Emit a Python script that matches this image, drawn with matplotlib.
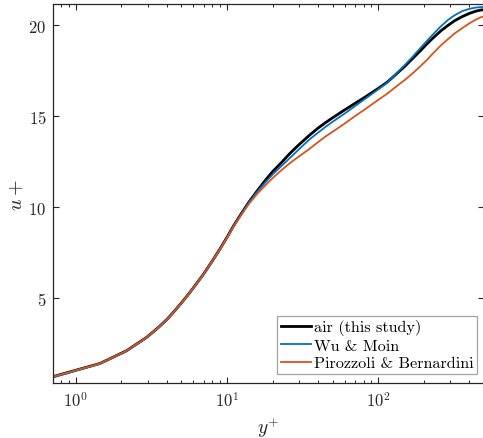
import numpy as np
import matplotlib
matplotlib.use("Agg")
import matplotlib.pyplot as plt
from matplotlib.ticker import LogLocator, NullFormatter, FixedLocator

plt.rcParams['font.family'] = 'serif'
plt.rcParams['font.serif'] = ['cmr10', 'DejaVu Serif']
plt.rcParams['mathtext.fontset'] = 'cm'
plt.rcParams['axes.formatter.use_mathtext'] = True

# Mean velocity profiles in wall units (y+, u+)
yplus_air = [0.711, 1.447, 2.17, 2.95, 3.5, 4.0, 4.5, 5.0, 5.5, 6.0, 7.0, 8.0, 9.0, 10.0,
             11.0, 12.0, 14.0, 16.0, 18.0, 20.0, 23.0, 26.0, 30.0, 35.0, 40.0, 45.0,
             50.0, 60.0, 70.0, 80.0, 90.0, 100.0, 115.0, 130.0, 150.0, 170.0, 190.0,
             210.0, 230.0, 260.0, 290.0, 320.0, 360.0, 400.0, 440.0, 480.0, 500.0]
uplus_air = [0.70, 1.42, 2.12, 2.86, 3.38, 3.83, 4.3, 4.75, 5.17, 5.58, 6.33, 7.05, 7.72,
             8.35, 8.95, 9.45, 10.3, 10.95, 11.5, 11.95, 12.47, 12.95, 13.45, 13.95, 14.35,
             14.66, 14.92, 15.35, 15.7, 16.0, 16.28, 16.53, 16.88, 17.28, 17.75, 18.2,
             18.6, 18.98, 19.3, 19.7, 20.0, 20.25, 20.48, 20.65, 20.77, 20.84, 20.85]

yplus_wm = [0.711, 1.447, 2.17, 2.95, 3.5, 4.0, 4.5, 5.0, 5.5, 6.0, 7.0, 8.0, 9.0, 10.0,
            11.0, 12.0, 14.0, 16.0, 18.0, 20.0, 23.0, 26.0, 30.0, 35.0, 40.0, 45.0,
            50.0, 60.0, 70.0, 80.0, 90.0, 100.0, 115.0, 130.0, 150.0, 170.0, 190.0,
            210.0, 230.0, 260.0, 290.0, 320.0, 360.0, 400.0, 440.0, 480.0, 500.0]
uplus_wm = [0.66, 1.40, 2.10, 2.84, 3.36, 3.81, 4.28, 4.73, 5.15, 5.56, 6.31, 7.03, 7.70,
            8.33, 8.93, 9.43, 10.27, 10.9, 11.38, 11.8, 12.28, 12.7, 13.2, 13.72, 14.1,
            14.43, 14.7, 15.15, 15.55, 15.9, 16.2, 16.48, 16.85, 17.3, 17.82, 18.3,
            18.75, 19.15, 19.5, 19.95, 20.3, 20.55, 20.78, 20.9, 20.97, 21.0, 21.0]

yplus_pb = [0.711, 1.447, 2.17, 2.95, 3.5, 4.0, 4.5, 5.0, 5.5, 6.0, 7.0, 8.0, 9.0, 10.0,
            11.0, 12.0, 14.0, 16.0, 18.0, 20.0, 23.0, 26.0, 30.0, 35.0, 40.0, 45.0,
            50.0, 60.0, 70.0, 80.0, 90.0, 100.0, 115.0, 130.0, 150.0, 170.0, 190.0,
            210.0, 230.0, 260.0, 290.0, 320.0, 360.0, 400.0, 440.0, 480.0, 500.0]
uplus_pb = [0.70, 1.42, 2.12, 2.86, 3.38, 3.83, 4.3, 4.75, 5.17, 5.58, 6.33, 7.05, 7.71,
            8.33, 8.92, 9.4, 10.2, 10.78, 11.22, 11.6, 12.05, 12.42, 12.8, 13.2, 13.58,
            13.9, 14.15, 14.6, 15.0, 15.33, 15.63, 15.9, 16.25, 16.6, 17.0, 17.38,
            17.75, 18.1, 18.45, 18.9, 19.25, 19.55, 19.85, 20.1, 20.3, 20.45, 20.49]

labels = ['air (this study)', 'Wu & Moin', 'Pirozzoli & Bernardini']
colors = ['black', '#0072BD', '#D95319']
widths = [2.0, 1.3, 1.3]

fig = plt.figure(figsize=(4.83, 4.39), dpi=100)
ax = fig.add_axes([53.3 / 483, 1 - 384.3 / 439, (484 - 53.3) / 483, (384.3 - 5.3) / 439])

series = [(yplus_air, uplus_air), (yplus_wm, uplus_wm), (yplus_pb, uplus_pb)]
for (x, y), c, lw, lab in zip(series, colors, widths, labels):
    ax.plot(x, y, color=c, lw=lw, label=lab, solid_joinstyle='round')

ax.set_xscale('log')
ax.set_xlim(0.711, 500)
ax.set_ylim(0.33, 21.15)
ax.yaxis.set_major_locator(FixedLocator([5, 10, 15, 20]))
ax.xaxis.set_major_locator(LogLocator(base=10, numticks=10))
ax.xaxis.set_minor_locator(LogLocator(base=10, subs=np.arange(2, 10), numticks=20))
ax.xaxis.set_minor_formatter(NullFormatter())

axis_col = '#262626'
for s in ax.spines.values():
    s.set_color(axis_col)
    s.set_linewidth(0.9)
ax.tick_params(which='both', direction='in', top=True, right=True, colors=axis_col,
               labelcolor=axis_col, labelsize=12)
ax.tick_params(which='major', length=4.5, width=0.8, pad=5)
ax.tick_params(which='minor', length=2.5, width=0.7)

ax.set_xlabel(r'$y^{+}$', fontsize=14, color=axis_col, labelpad=4)
ax.set_ylabel(r'$u+$', fontsize=14.5, color=axis_col, labelpad=2)

leg = ax.legend(loc='lower right', bbox_to_anchor=(0.984, 0.0245), fontsize=11.7,
                frameon=True, fancybox=False, handlelength=1.85, handletextpad=0.2,
                borderpad=0.22, labelspacing=0.2, borderaxespad=0.0)
leg.get_frame().set_edgecolor('#8c8c8c')
leg.get_frame().set_linewidth(0.9)

fig.savefig('out.png', dpi=100)
